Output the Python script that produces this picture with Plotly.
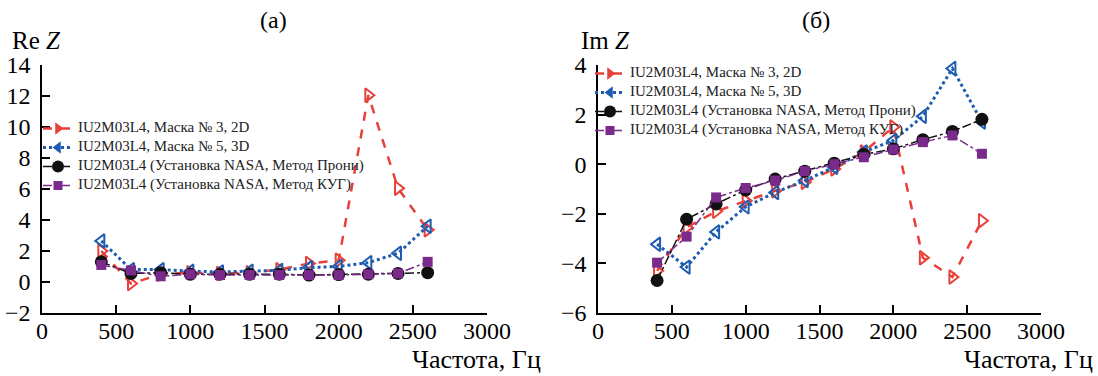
import plotly.graph_objects as go

freq = [400, 600, 800, 1000, 1200, 1400, 1600, 1800, 2000, 2200, 2400, 2600]

re_2d = [2.0, -0.1, 0.5, 0.6, 0.55, 0.6, 0.8, 1.2, 1.4, 12.05, 6.05, 3.37]
re_3d = [2.65, 0.8, 0.8, 0.7, 0.65, 0.7, 0.75, 0.93, 1.0, 1.25, 1.85, 3.6]
re_prony = [1.3, 0.55, 0.6, 0.5, 0.5, 0.5, 0.5, 0.45, 0.48, 0.5, 0.55, 0.6]
re_kug = [1.1, 0.75, 0.37, 0.5, 0.45, 0.45, 0.45, 0.45, 0.45, 0.5, 0.55, 1.3]

im_2d = [-4.3, -2.55, -1.9, -1.47, -1.07, -0.73, -0.19, 0.49, 1.5, -3.77, -4.55, -2.28]
im_3d = [-3.23, -4.15, -2.73, -1.72, -1.14, -0.66, -0.12, 0.49, 0.96, 1.93, 3.86, 1.7]
im_prony = [-4.69, -2.22, -1.6, -1.04, -0.6, -0.28, 0.04, 0.39, 0.62, 0.99, 1.32, 1.81]
im_kug = [-3.97, -2.92, -1.34, -0.96, -0.66, -0.28, 0.0, 0.28, 0.59, 0.89, 1.16, 0.42]

names = ["IU2M03L4, Маска № 3, 2D",
         "IU2M03L4, Маска № 5, 3D",
         "IU2M03L4 (Установка NASA, Метод Прони)",
         "IU2M03L4 (Установка NASA, Метод КУГ)"]

RED = "#e8403a"
BLUE = "#1d5cb0"
BLACK = "#111111"
PURPLE = "#7a2a8a"

styles = [
    dict(color=RED, dash="dash", width=2.5, sym="triangle-right-open", lsym="triangle-right", size=12, mlw=2),
    dict(color=BLUE, dash="dot", width=3, sym="triangle-left-open", lsym="triangle-left", size=12, mlw=2),
    dict(color=BLACK, dash="dashdot", width=1.5, sym="circle", lsym="circle", size=13, mlw=0),
    dict(color=PURPLE, dash="dashdot", width=1.5, sym="square", lsym="square", size=10, mlw=0),
]

FONT = "Liberation Serif, Times New Roman, Times, serif"
fig = go.Figure()

panels = [
    ([re_2d, re_3d, re_prony, re_kug], "x", "y", "legend"),
    ([im_2d, im_3d, im_prony, im_kug], "x2", "y2", "legend2"),
]

for series, xa, ya, leg in panels:
    for vals, st in zip(series, styles):
        fig.add_trace(go.Scatter(
            x=freq, y=vals, xaxis=xa, yaxis=ya, mode="lines+markers",
            line=dict(color=st["color"], dash=st["dash"], width=st["width"]),
            marker=dict(symbol=st["sym"], size=st["size"], color=st["color"],
                        line=dict(width=st["mlw"], color=st["color"])),
            showlegend=False, cliponaxis=False))
    for st, nm in zip(styles, names):
        fig.add_trace(go.Scatter(
            x=[None], y=[None], xaxis=xa, yaxis=ya, mode="lines+markers",
            name="<span style='font-size:15px'>" + nm + "</span>",
            line=dict(color=st["color"], dash=st["dash"], width=st["width"]),
            marker=dict(symbol=st["lsym"], size=st["size"] - 1, color=st["color"]),
            legend=leg, showlegend=True))

axis_common = dict(showline=True, linecolor="black", linewidth=1.5, ticks="inside",
                   ticklen=8, tickwidth=1.5, tickcolor="black", showgrid=False,
                   zeroline=False, automargin=False,
                   tickfont=dict(family=FONT, size=24, color="black"))

ydom = [1 - 313 / 376, 1 - 65 / 376]
fig.update_layout(
    width=1098, height=376, margin=dict(l=0, r=0, t=0, b=0, autoexpand=False),
    paper_bgcolor="white", plot_bgcolor="white",
    font=dict(family=FONT, color="black"),
    xaxis=dict(domain=[42 / 1098, 487 / 1098], range=[0, 3000], dtick=500, anchor="y",
               ticklabelstandoff=-5, **axis_common),
    yaxis=dict(domain=ydom, range=[-2, 14], dtick=2, anchor="x", ticklabelstandoff=5, **axis_common),
    xaxis2=dict(domain=[598 / 1098, 1041 / 1098], range=[0, 3000], dtick=500, anchor="y2",
                ticklabelstandoff=-5, **axis_common),
    yaxis2=dict(domain=ydom, range=[-6, 4], dtick=2, anchor="x2", ticklabelstandoff=5, **axis_common),
    legend=dict(x=38 / 1098, y=1 - 114 / 376, xanchor="left", yanchor="top",
                bgcolor="rgba(0,0,0,0)", font=dict(family=FONT, size=10, color="#222"),
                itemwidth=30, tracegroupgap=0),
    legend2=dict(x=590 / 1098, y=1 - 59 / 376, xanchor="left", yanchor="top",
                 bgcolor="rgba(0,0,0,0)", font=dict(family=FONT, size=10, color="#222"),
                 itemwidth=30, tracegroupgap=0),
)

for text, xpix in [("(a)", 273), ("(б)", 816)]:
    fig.add_annotation(text=text, x=xpix / 1098, y=1 - 20 / 376, xref="paper", yref="paper",
                       showarrow=False, xanchor="center", yanchor="middle",
                       font=dict(family=FONT, size=24, color="black"))

for text, xpix in [("Re <i>Z</i>", 10), ("Im <i>Z</i>", 579)]:
    fig.add_annotation(text=text, x=xpix / 1098, y=1 - 40 / 376, xref="paper", yref="paper",
                       showarrow=False, xanchor="left", yanchor="middle",
                       font=dict(family=FONT, size=25, color="black"))

for xpix in [543, 1095]:
    fig.add_annotation(text="Частота, Гц", x=xpix / 1098, y=1 - 359 / 376, xref="paper", yref="paper",
                       showarrow=False, xanchor="right", yanchor="middle",
                       font=dict(family=FONT, size=26, color="black"))

fig.write_html("out.html")
